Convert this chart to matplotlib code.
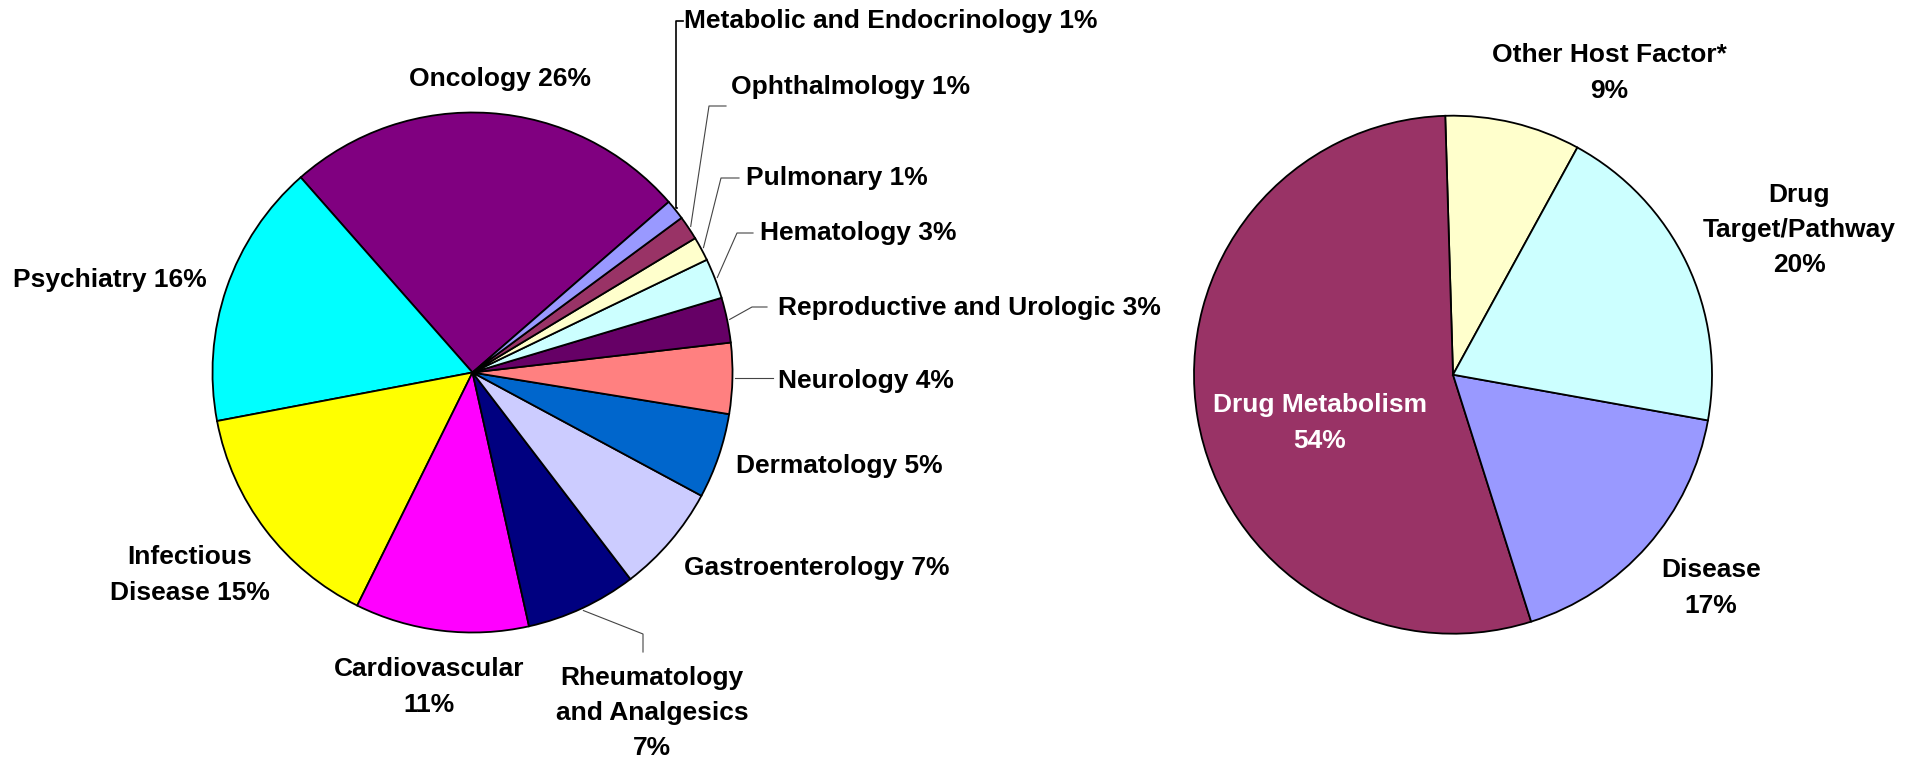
import matplotlib.pyplot as plt
import numpy as np

W, H = 1914, 759

# left pie: therapeutic areas
left_labels = ['Oncology 26%', 'Psychiatry 16%', 'Infectious\nDisease 15%', 'Cardiovascular\n11%',
               'Rheumatology\nand Analgesics\n7%', 'Gastroenterology 7%', 'Dermatology 5%',
               'Neurology 4%', 'Reproductive and Urologic 3%', 'Hematology 3%', 'Pulmonary 1%',
               'Ophthalmology 1%', 'Metabolic and Endocrinology 1%']
left_values = [25.1, 16.5, 14.7, 10.8, 6.9, 6.75, 5.3, 4.4, 2.8, 2.5, 1.5, 1.5, 1.25]
left_colors = ['#800080', '#00ffff', '#ffff00', '#ff00ff', '#000080', '#ccccff', '#0066cc',
               '#ff8080', '#660066', '#ccffff', '#ffffcc', '#993366', '#9999ff']

# right pie: factor types
right_labels = ['Other Host Factor*\n9%', 'Drug Metabolism\n54%', 'Disease\n17%',
                'Drug\nTarget/Pathway\n20%']
right_values = [8.45, 54.4, 17.3, 19.85]
right_colors = ['#ffffcc', '#993366', '#9999ff', '#ccffff']

# label placement (pixel coords, y down)
left_pos = [(500, 79, 'center'), (13, 280, 'left'), (190, 575, 'center'), (429, 687, 'center'),
            (652, 713, 'center'), (684, 568, 'left'), (736, 466, 'left'), (778, 381, 'left'),
            (778, 308, 'left'), (760, 233, 'left'), (746, 178, 'left'), (731, 87, 'left'),
            (684, 21, 'left')]
right_pos = [(1609, 73), (1320, 423), (1711, 588), (1799, 230)]

# leader line elbows, by slice index
leaders = {12: [('x', 676), (676, 21), (683, 21)],
           11: [(709, 106), (726, 106)],
           10: [(721, 178), (739, 178)],
           9: [(737, 233), (753, 233)],
           8: [(752, 307), (767, 307)],
           7: [('x', 773)],
           4: [(643, 634), (643, 652)]}

plt.rcParams['font.family'] = ['Liberation Sans', 'DejaVu Sans']
fig = plt.figure(figsize=(W / 100, H / 100), dpi=100)
ax = fig.add_axes([0, 0, 1, 1])

wp = dict(edgecolor='black', linewidth=1.3)
lw, _ = ax.pie(left_values, colors=left_colors, startangle=41, center=(472.5, H - 372.5),
               radius=260, wedgeprops=wp)
rw, _ = ax.pie(right_values, colors=right_colors, startangle=61.3, center=(1453, H - 374.7),
               radius=259, wedgeprops=wp)

ax.set_aspect('auto')
ax.set_xlim(0, W)
ax.set_ylim(0, H)
ax.axis('off')

fs = 19
for lab, (x, y, ha) in zip(left_labels, left_pos):
    ax.text(x, H - y, lab, ha=ha, va='center', fontsize=fs, fontweight='bold',
            multialignment='center', linespacing=1.6)

for i, (lab, (x, y)) in enumerate(zip(right_labels, right_pos)):
    ax.text(x, H - y, lab, ha='center', va='center', fontsize=fs, fontweight='bold',
            linespacing=1.6, color='white' if i == 1 else 'black')

for i, pts in leaders.items():
    w = lw[i]
    mid = np.radians((w.theta1 + w.theta2) / 2)
    x0 = w.center[0] + w.r * 1.01 * np.cos(mid)
    y0 = w.center[1] + w.r * 1.01 * np.sin(mid)
    xs, ys = [x0], [y0]
    for p in pts:
        if p[0] == 'x':
            xs.append(p[1])
            ys.append(y0)
        else:
            xs.append(p[0])
            ys.append(H - p[1])
    if i == 12:
        ax.plot(xs, ys, color='black', linewidth=1.2)
    else:
        ax.plot(xs, ys, color='#444444', linewidth=0.8)

fig.savefig('out.png', dpi=100)
